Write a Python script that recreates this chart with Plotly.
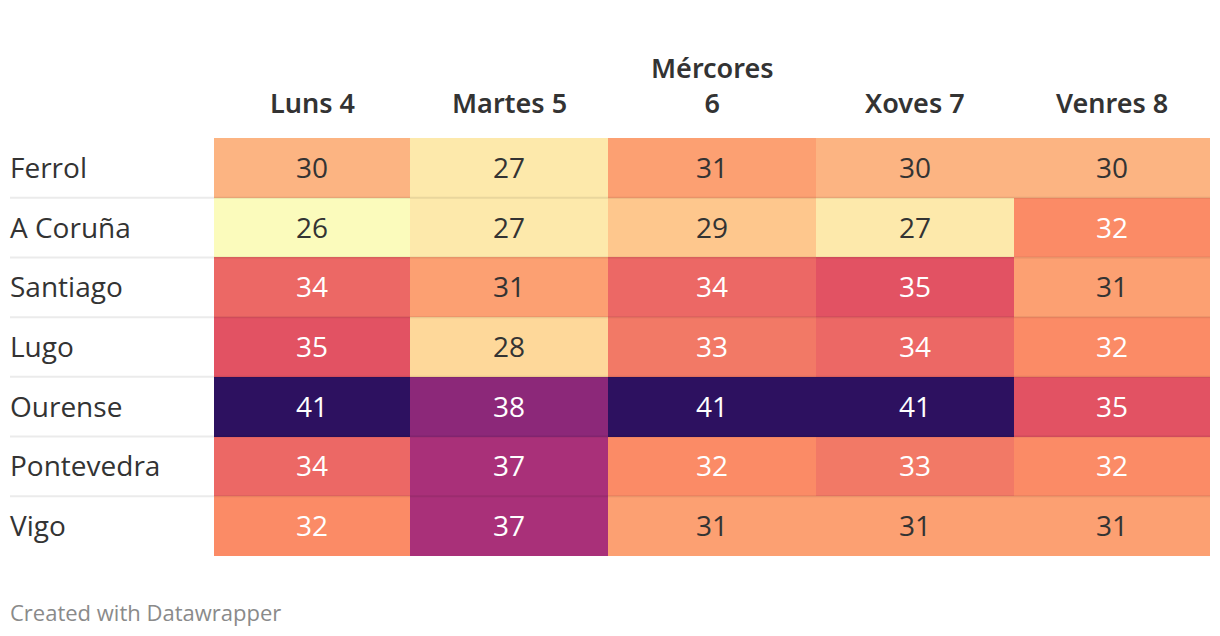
import plotly.graph_objects as go

days = ["Luns 4", "Martes 5", "Mércores<br>6", "Xoves 7", "Venres 8"]
cities = ["Ferrol", "A Coruña", "Santiago", "Lugo", "Ourense", "Pontevedra", "Vigo"]
temps = [
    [30, 27, 31, 30, 30],
    [26, 27, 29, 27, 32],
    [34, 31, 34, 35, 31],
    [35, 28, 33, 34, 32],
    [41, 38, 41, 41, 35],
    [34, 37, 32, 33, 32],
    [32, 37, 31, 31, 31],
]
footer = "Created with Datawrapper"

color_values = [26, 27, 28, 29, 30, 31, 32, 33, 34, 35, 37, 38, 41]
color_hex = ["#fbfbbc", "#fde9ab", "#fed89a", "#fec78d", "#fcb482", "#fca072",
             "#fb8b66", "#f27966", "#ec6865", "#e25263", "#a93079", "#8c2879", "#2d1160"]
vmin, vmax = 26, 41
colorscale = [[(v - vmin) / (vmax - vmin), c] for v, c in zip(color_values, color_hex)]

# layout: column edges in pixels (columns sized by their header text)
col_edges = [0, 196, 394, 602, 800, 996]
col_mid = [(a + b) / 2 for a, b in zip(col_edges[:-1], col_edges[1:])]

FONT = "Open Sans"
HFONT = "Noto Sans"
W, H = 1204, 620
ml, mr, mt, mb = 206, 2, 130, 72
pw = W - ml - mr
ph = H - mt - mb

fig = go.Figure(go.Heatmap(
    z=temps, x=col_edges, y=list(range(len(cities))),
    colorscale=colorscale, zmin=vmin, zmax=vmax, showscale=False,
    hoverinfo="skip",
))

ann = []
for i, row in enumerate(temps):
    for j, v in enumerate(row):
        ann.append(dict(x=col_mid[j], y=i, xref="x", yref="y", text=str(v), showarrow=False,
                        yshift=1,
                        font=dict(family=FONT, size=28, color="#ffffff" if v >= 32 else "#333333")))
for i, c in enumerate(cities):
    ann.append(dict(x=(2 - ml) / pw, y=i, xref="paper", yref="y", text=c, showarrow=False,
                    xanchor="left", xshift=-2, yshift=1,
                    font=dict(family=FONT, size=28, color="#333333")))
for j, d in enumerate(days):
    ann.append(dict(x=col_mid[j], y=1, xref="x", yref="paper", text=d, showarrow=False,
                    yanchor="bottom", yshift=15,
                    font=dict(family=HFONT, size=27, color="#333333", weight=600)))
ann.append(dict(x=(2 - ml) / pw, y=-(604 - (H - mb)) / ph, xref="paper", yref="paper",
                text=footer, showarrow=False, xanchor="left", xshift=-2, yanchor="middle",
                font=dict(family=FONT, size=22, color="#8a8a8a")))

shapes = []
for i in range(len(cities) - 1):
    shapes.append(dict(type="line", xref="paper", yref="y", x0=(2 - ml) / pw, x1=1,
                       y0=i + 0.5, y1=i + 0.5, layer="above",
                       line=dict(color="rgba(0,0,0,0.08)", width=2)))

fig.update_layout(
    width=W, height=H,
    margin=dict(l=ml, r=mr, t=mt, b=mb),
    paper_bgcolor="white", plot_bgcolor="white",
    xaxis=dict(visible=False, range=[0, pw], fixedrange=True),
    yaxis=dict(visible=False, range=[len(cities) - 0.5, -0.5], fixedrange=True),
    annotations=ann, shapes=shapes,
    font=dict(family=FONT),
)
fig.write_html("out.html", config={"displayModeBar": False})
